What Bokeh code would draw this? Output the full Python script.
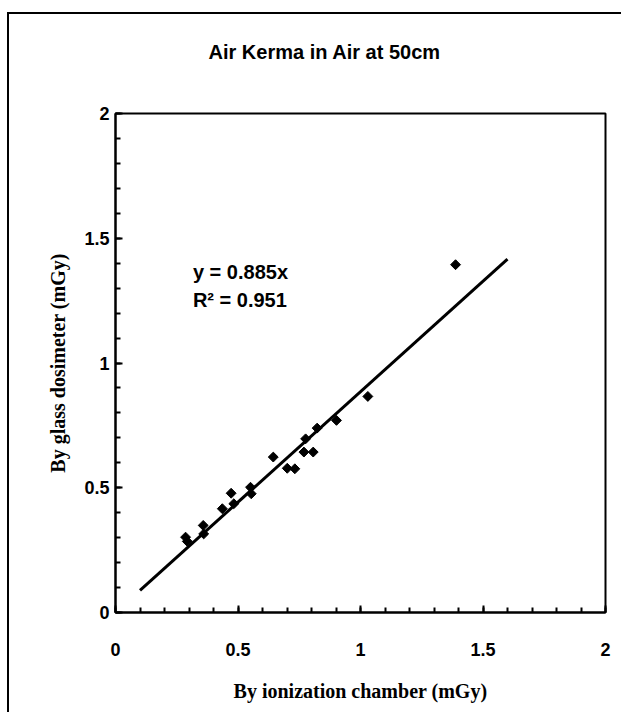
import math
from bokeh.plotting import figure
from bokeh.models import FixedTicker, ColumnDataSource, Label
from bokeh.embed import file_html
from bokeh.resources import INLINE

# ---- data ----
ion_chamber = [0.286, 0.293, 0.358, 0.360, 0.436, 0.472, 0.483, 0.551, 0.554,
               0.644, 0.701, 0.732, 0.769, 0.807, 0.776, 0.823, 0.902, 1.030, 1.388]
glass_dosimeter = [0.302, 0.285, 0.349, 0.315, 0.416, 0.478, 0.436, 0.502, 0.476,
                   0.623, 0.578, 0.576, 0.643, 0.643, 0.696, 0.739, 0.770, 0.866, 1.394]
trend_slope = 0.885
trend_x = [0.1, 1.6]
r_squared = 0.951
axis_ticks = [0, 0.5, 1, 1.5, 2]
tick_labels = ["0", "0.5", "1", "1.5", "2"]
minor_step = 0.1

title_text = "Air Kerma in Air at 50cm"
x_label = "By ionization chamber (mGy)"
y_label = "By glass dosimeter (mGy)"

trend_y = [trend_slope * v for v in trend_x]
minor_ticks = [round(i * minor_step, 2) for i in range(0, 21)]

W, H = 614, 700
p = figure(width=W, height=H, x_range=(0, 2), y_range=(0, 2),
           output_backend="svg", toolbar_location=None,
           min_border_left=106, min_border_right=18,
           min_border_top=99, min_border_bottom=102)
p.styles = {"margin-left": "7px", "margin-top": "12px",
            "border-left": "2px solid black", "border-top": "2px solid black"}
p.background_fill_color = "white"
p.border_fill_color = "white"
p.xgrid.visible = False
p.ygrid.visible = False
p.outline_line_color = "black"
p.outline_line_width = 2
p.outline_line_alpha = 1

# title: a blank second line lifts it higher above the frame
p.title.text = title_text + "\n "
p.title.align = "left"
p.title.offset = 93
p.title.vertical_align = "bottom"
p.title.text_font = "Liberation Sans"
p.title.text_font_style = "bold"
p.title.text_font_size = "20px"
p.title.text_line_height = 1.3
p.title.text_color = "black"
if "standoff" in p.title.properties():
    p.title.standoff = 44

for ax in (p.xaxis[0], p.yaxis[0]):
    ax.ticker = FixedTicker(ticks=axis_ticks, minor_ticks=minor_ticks)
    ax.major_label_overrides = {t: l for t, l in zip(axis_ticks, tick_labels)}
    ax.axis_line_width = 2
    ax.axis_line_color = "black"
    ax.major_tick_in = 7
    ax.major_tick_out = 0
    ax.minor_tick_in = 5
    ax.minor_tick_out = 0
    ax.major_tick_line_width = 2
    ax.minor_tick_line_width = 2
    ax.major_tick_line_color = "black"
    ax.minor_tick_line_color = "black"
    ax.major_label_text_font = "Liberation Sans"
    ax.major_label_text_font_style = "bold"
    ax.major_label_text_font_size = "18px"
    ax.major_label_text_color = "black"
    ax.axis_label_text_font = "Liberation Serif"
    ax.axis_label_text_font_style = "bold"
    ax.axis_label_text_font_size = "20px"
    ax.axis_label_text_color = "black"

p.xaxis.axis_label = x_label
p.yaxis.axis_label = y_label
p.xaxis.major_label_standoff = 30
p.xaxis.axis_label_standoff = 21
p.yaxis.major_label_standoff = 6
p.yaxis.axis_label_standoff = 12

src = ColumnDataSource(dict(x=ion_chamber, y=glass_dosimeter))
p.line(trend_x, trend_y, line_color="black", line_width=3)
p.scatter("x", "y", source=src, marker="square", angle=math.pi / 4,
          size=7, fill_color="black", line_color="black")

p.add_layout(Label(x=0.316, y=1.364, text="y = %.3fx" % trend_slope,
                   text_font="Liberation Sans", text_font_style="bold",
                   text_font_size="20px", text_color="black",
                   text_baseline="alphabetic"))
p.add_layout(Label(x=0.316, y=1.252, text="R\u00b2 = %.3f" % r_squared,
                   text_font="Liberation Sans", text_font_style="bold",
                   text_font_size="20px", text_color="black",
                   text_baseline="alphabetic"))

open("out.html", "w").write(file_html(p, INLINE))
